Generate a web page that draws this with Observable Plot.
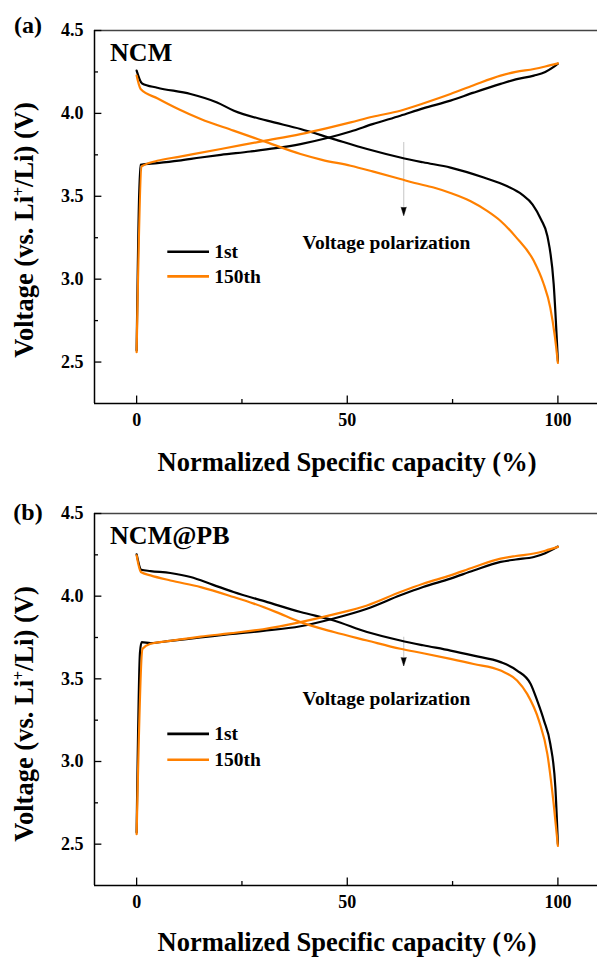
<!DOCTYPE html>
<html>
<head>
<meta charset="utf-8">
<script src="https://cdn.jsdelivr.net/npm/d3@7"></script>
<script src="https://cdn.jsdelivr.net/npm/@observablehq/plot@0.6"></script>
<style>
  body { margin: 0; background: #fff; overflow: hidden; font-family: "Liberation Serif", "Times New Roman", serif; }
  #page { position: relative; width: 597px; height: 958px; }
  .panel { position: absolute; left: 0; }
  .lbl { position: absolute; font-weight: bold; color: #000; white-space: nowrap; line-height: 1; }
  .ytitle { transform: translate(-50%, -50%) rotate(-90deg); font-size: 26.5px; }
  .xtitle { transform: translate(-50%, -50%); font-size: 26.5px; }
  .tag { transform: translate(-50%, -50%); font-size: 24px; }
  sup { font-size: 60%; vertical-align: 0.55em; line-height: 0; }
</style>
</head>
<body>
<div id="page"></div>
<script>
// Normalized specific capacity (%) vs. voltage (V) — [capacity, voltage]
const ncmCharge1st = [[0,2.57],[0.9,3.69],[4.9,3.70],[10,3.715],[15.2,3.734],[20,3.75],[27,3.77],[33,3.79],[38.9,3.815],[45,3.85],[50.8,3.891],[56,3.935],[62.6,3.986],[68,4.03],[74.5,4.077],[80,4.125],[86.4,4.178],[90,4.205],[94.3,4.228],[97,4.25],[99,4.28],[100,4.30]];
const ncmCharge150th = [[0,2.56],[1.2,3.68],[4.9,3.714],[10,3.738],[20,3.785],[30,3.833],[38.9,3.875],[45,3.91],[50.8,3.946],[56,3.98],[62.6,4.016],[68,4.06],[74.5,4.117],[80,4.17],[86.4,4.228],[90,4.25],[94.3,4.268],[97,4.283],[100,4.302]];
const ncmDischarge1st = [[0,4.258],[1.3,4.18],[4.9,4.155],[12.8,4.117],[19.1,4.066],[23.1,4.016],[31,3.956],[38.9,3.906],[46.8,3.845],[54.7,3.785],[62.6,3.734],[68,3.705],[74.5,3.673],[82.4,3.613],[88,3.56],[91.5,3.51],[94,3.45],[96,3.36],[97.5,3.26],[99,2.97],[100,2.505]];
const ncmDischarge150th = [[0,4.228],[0.95,4.147],[5,4.09],[10,4.025],[15.2,3.966],[23,3.896],[31,3.825],[38.9,3.755],[44,3.72],[50.8,3.684],[56,3.65],[62.6,3.604],[66,3.58],[70.5,3.553],[74.5,3.52],[79.3,3.47],[83,3.415],[86.4,3.351],[90,3.255],[94.3,3.109],[96.5,2.98],[98.2,2.827],[99.3,2.65],[100,2.495]];

const pbCharge1st = [[0,2.57],[0.8,3.66],[1.2,3.722],[3.3,3.716],[8,3.73],[15.2,3.75],[22,3.77],[30,3.79],[38.9,3.818],[46.8,3.865],[54.7,3.924],[62.6,4.005],[68,4.055],[74.5,4.106],[80,4.155],[86.4,4.207],[90,4.222],[94.3,4.237],[97,4.26],[100,4.30]];
const pbCharge150th = [[0,2.56],[1.4,3.682],[3.3,3.712],[8,3.73],[15.2,3.755],[22,3.775],[30,3.8],[38.9,3.843],[46.8,3.89],[54.7,3.944],[62.6,4.025],[68,4.075],[74.5,4.126],[80,4.175],[86.4,4.227],[90,4.243],[94.3,4.258],[97,4.275],[100,4.298]];
const pbDischarge1st = [[0,4.253],[1.1,4.16],[3.3,4.152],[8,4.14],[12.8,4.116],[18,4.07],[23,4.025],[31,3.964],[38.9,3.904],[46.8,3.853],[54.7,3.783],[62.6,3.732],[68,3.703],[74.5,3.671],[80,3.64],[86.4,3.601],[90.3,3.55],[93.5,3.47],[95.2,3.36],[96.7,3.247],[98.2,3.106],[99.4,2.843],[100,2.50]];
const pbDischarge150th = [[0,4.247],[1,4.146],[3.3,4.126],[8,4.095],[15.2,4.055],[23,3.995],[27.8,3.955],[33,3.905],[38.9,3.843],[46.8,3.783],[54.7,3.732],[62.6,3.682],[68,3.655],[74.5,3.621],[80,3.59],[86.4,3.55],[90.3,3.49],[92.7,3.409],[95.5,3.247],[97.5,3.045],[99,2.742],[100,2.49]];

const cycles = ["1st", "150th"];
const cycleColors = ["#000000", "#ff8000"];
const xTicks = [0, 50, 100];
const xMinorTicks = [25, 75];
const yTicks = [2.5, 3.0, 3.5, 4.0, 4.5];
const yMinorTicks = [2.75, 3.25, 3.75, 4.25];
const panelNames = ["NCM", "NCM@PB"];
const panelTags = ["(a)", "(b)"];
const annotationText = "Voltage polarization";
const xTitle = "Normalized Specific capacity (%)";

const xDomain = [-10, 109.4];
const yDomain = [2.25, 4.5];
const page = document.getElementById("page");

function curveMarks(curves) {
  // black (1st) drawn first, orange (150th) on top
  const marks = [];
  curves.forEach(([charge, discharge], i) => {
    for (const data of [charge, discharge]) {
      marks.push(Plot.line(data, {x: d => d[0], y: d => d[1], stroke: cycleColors[i], strokeWidth: 2.2, curve: "monotone-x"}));
    }
  });
  return marks;
}

function panel(cfg) {
  const xTickLen = 1.75, xMinorLen = 0.95;   // in capacity units (~7px / ~4px)
  const yTickLen = 0.045, yMinorLen = 0.024; // in volts
  const chart = Plot.plot({
    width: 597,
    height: cfg.height,
    marginLeft: 94,
    marginRight: 0,
    marginTop: cfg.marginTop,
    marginBottom: cfg.marginBottom,
    x: {domain: xDomain},
    y: {domain: yDomain},
    style: {fontFamily: "'Liberation Serif', 'Times New Roman', serif", color: "#000", background: "transparent", overflow: "visible"},
    marks: [
      // axes and frame lines
      Plot.ruleY([yDomain[1]], {stroke: "#444", strokeWidth: 1.5}),
      Plot.ruleX([xDomain[0]], {stroke: "#000", strokeWidth: 1.5}),
      Plot.ruleY([yDomain[0]], {stroke: "#000", strokeWidth: 1.5}),
      // inward ticks
      Plot.ruleX(xTicks, {x: d => d, y1: yDomain[0], y2: yDomain[0] + yTickLen, stroke: "#000", strokeWidth: 1.3}),
      Plot.ruleX(xMinorTicks, {x: d => d, y1: yDomain[0], y2: yDomain[0] + yMinorLen, stroke: "#000", strokeWidth: 1.3}),
      Plot.ruleY(yTicks, {y: d => d, x1: xDomain[0], x2: xDomain[0] + xTickLen, stroke: "#000", strokeWidth: 1.3}),
      Plot.ruleY(yMinorTicks, {y: d => d, x1: xDomain[0], x2: xDomain[0] + xMinorLen, stroke: "#000", strokeWidth: 1.3}),
      Plot.axisX({ticks: xTicks, tickSize: 0, tickPadding: 10, fontSize: 18, fontWeight: "bold", label: null}),
      Plot.axisY({ticks: yTicks, tickFormat: d3.format(".1f"), tickSize: 0, tickPadding: 11, fontSize: 18, fontWeight: "bold", label: null}),
      // polarization arrow
      Plot.ruleX([cfg.arrowX], {x: d => d, y1: cfg.arrowTop, y2: cfg.arrowBase, stroke: "#cfcfcf", strokeWidth: 1.2}),
      Plot.vector([cfg.arrowX], {x: d => d, y: cfg.arrowBase, length: 8.5, rotate: 180, anchor: "start", shape: "spike", r: 2.6, fill: "#000", stroke: "#000", strokeWidth: 0.5}),
      Plot.text([annotationText], {x: cfg.noteX, y: cfg.noteY, text: d => d, textAnchor: "start", fontSize: 19.5, fontWeight: "bold"}),
      // curves
      ...curveMarks(cfg.curves),
      // legend
      Plot.ruleY(cycles, {y: (d, i) => cfg.legendY[i], x1: 7.4, x2: 17.3, stroke: (d, i) => cycleColors[i], strokeWidth: 2.6}),
      Plot.text(cycles, {x: 18.4, y: (d, i) => cfg.legendY[i], text: d => d, textAnchor: "start", fontSize: 19.5, fontWeight: "bold"}),
      // sample name
      Plot.text([cfg.name], {x: -6.3, y: cfg.nameY, text: d => d, textAnchor: "start", fontSize: 26, fontWeight: "bold"})
    ]
  });
  chart.classList.add("panel");
  chart.style.top = cfg.top + "px";
  page.appendChild(chart);

  const tag = document.createElement("div");
  tag.className = "lbl tag";
  tag.style.left = "28px"; tag.style.top = cfg.tagY + "px";
  tag.textContent = cfg.tag;
  page.appendChild(tag);

  const yt = document.createElement("div");
  yt.className = "lbl ytitle";
  yt.style.left = "24px"; yt.style.top = cfg.yTitleY + "px";
  yt.innerHTML = "Voltage (vs. Li<sup>+</sup>/Li) (V)";
  page.appendChild(yt);

  const xt = document.createElement("div");
  xt.className = "lbl xtitle";
  xt.style.left = "347px"; xt.style.top = cfg.xTitleY + "px";
  xt.textContent = xTitle;
  page.appendChild(xt);
}

panel({
  top: 0, height: 485, marginTop: 30, marginBottom: 82,
  curves: [[ncmCharge1st, ncmDischarge1st], [ncmCharge150th, ncmDischarge150th]],
  name: panelNames[0], nameY: 4.367, tag: panelTags[0], tagY: 25,
  legendY: [3.165, 3.017],
  arrowX: 63.4, arrowTop: 3.825, arrowBase: 3.434,
  noteX: 39.4, noteY: 3.22,
  yTitleY: 230, xTitleY: 462
});

panel({
  top: 485, height: 473, marginTop: 28, marginBottom: 73,
  curves: [[pbCharge1st, pbDischarge1st], [pbCharge150th, pbDischarge150th]],
  name: panelNames[1], nameY: 4.368, tag: panelTags[1], tagY: 512,
  legendY: [3.167, 3.011],
  arrowX: 63.4, arrowTop: 3.752, arrowBase: 3.629,
  noteX: 39.4, noteY: 3.379,
  yTitleY: 714, xTitleY: 942
});
</script>
</body>
</html>
